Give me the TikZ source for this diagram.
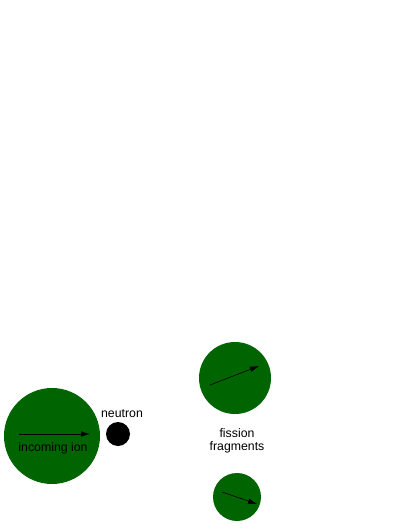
\documentclass[tikz,border=0pt]{standalone}
\usepackage{fontspec}
\setmainfont{Liberation Sans}
\usetikzlibrary{arrows.meta}
\definecolor{nucleus}{RGB}{0,100,0}
\begin{document}
\begin{tikzpicture}[x=1pt,y=-1pt]
\tikzstyle{every node}=[font=\fontsize{12.3}{13.5}\selectfont]
\tikzstyle{ball}=[circle, fill=nucleus, inner sep=0pt]
\tikzstyle{motion}=[-{Latex[length=9pt,width=5.5pt]}, line width=0.6pt]
	\useasboundingbox (0,0) rectangle (411,532);

	\node[ball, minimum size=96pt] (ion) at (52,436) {};
	\node[circle, fill=black, inner sep=0pt, minimum size=24pt] (neutron) at (118,434) {};
	\node[ball, minimum size=72pt] (upper) at (235,378) {};
	\node[ball, minimum size=48pt] (lower) at (237,497) {};

	\node (ionlabel) at (53,448.5) {incoming ion};
	\node (neutronlabel) at (122,414) {neutron};
	\node[align=center] (fissionlabel) at (237,441) {fission\\fragments};

	\coordinate (ionstart) at (19,434); \coordinate (ionend) at (90,434);
	\draw[motion] (ionstart) -- (ionend);
	\coordinate (upperstart) at (210,385); \coordinate (upperend) at (259,366);
	\draw[motion] (upperstart) -- (upperend);
	\coordinate (lowerstart) at (222,492); \coordinate (lowerend) at (257,504);
	\draw[motion] (lowerstart) -- (lowerend);
\end{tikzpicture}
\end{document}
